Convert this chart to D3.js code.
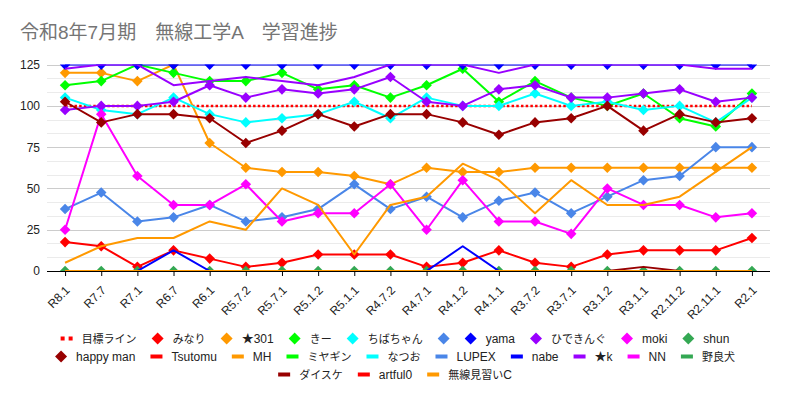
<!DOCTYPE html>
<html lang="ja">
<head>
  <meta charset="UTF-8">
  <title>令和8年7月期 無線工学A 学習進捗</title>
  <style>
    body {
      margin: 0;
      background: #fff;
    }
    svg {
      display: block;
      font-family: "Liberation Sans", Arial, "Noto Sans CJK JP", sans-serif;
    }
    .title {
      font-size: 19px;
      fill: #757575;
      font-family: "Liberation Sans", Arial, "Noto Sans CJK JP", sans-serif;
    }
    .axis text {
      font-size: 12px;
      fill: #222;
    }
    .legend text {
      font-size: 12px;
      fill: #222;
    }
  </style>
</head>
<body>
  <svg></svg>
  <script src="https://d3js.org/d3.v7.min.js"></script>
  <script>
    const categories = ['R8.1', 'R7.7', 'R7.1', 'R6.7', 'R6.1', 'R5.7.2', 'R5.7.1', 'R5.1.2', 'R5.1.1', 'R4.7.2',
      'R4.7.1', 'R4.1.2', 'R4.1.1', 'R3.7.2', 'R3.7.1', 'R3.1.2', 'R3.1.1', 'R2.11.2', 'R2.11.1', 'R2.1'];
    const yTicks = [0, 25, 50, 75, 100, 125];

    // values, R8.1 -> R2.1
    const target    = [100, 100, 100, 100, 100, 100, 100, 100, 100, 100, 100, 100, 100, 100, 100, 100, 100, 100, 100, 100];
    const minari    = [17.5, 15, 2.5, 12.5, 7.5, 2.5, 5, 10, 10, 10, 2.5, 5, 12.5, 5, 2.5, 10, 12.5, 12.5, 12.5, 20];
    const star301   = [120, 120, 115, 125, 77.5, 62.5, 60, 60, 57.5, 52.5, 62.5, 60, 60, 62.5, 62.5, 62.5, 62.5, 62.5, 62.5, 62.5];
    const kii       = [112.5, 115, 125, 120, 115, 115, 120, 110, 112.5, 105, 112.5, 122.5, 102.5, 115, 105, 100, 107.5, 92.5, 87.5, 107.5];
    const chiba     = [105, 97.5, 95, 105, 95, 90, 92.5, 95, 102.5, 92.5, 105, 100, 100, 107.5, 100, 102.5, 97.5, 100, 90, 105];
    const noName    = [37.5, 47.5, 30, 32.5, 40, 30, 32.5, 37.5, 52.5, 37.5, 45, 32.5, 42.5, 47.5, 35, 45, 55, 57.5, 75, 75];
    const yama      = [125, 125, 125, 125, 125, 125, 125, 125, 125, 125, 125, 125, 125, 125, 125, 125, 125, 125, 125, 125];
    const hideking  = [97.5, 100, 100, 102.5, 112.5, 105, 110, 107.5, 110, 117.5, 102.5, 100, 110, 112.5, 105, 105, 107.5, 110, 102.5, 105];
    const moki      = [25, 95, 57.5, 40, 40, 52.5, 30, 35, 35, 52.5, 25, 55, 30, 30, 22.5, 50, 40, 40, 32.5, 35];
    const shun      = [0, 0, 0, 0, 0, 0, 0, 0, 0, 0, 0, 0, 0, 0, 0, 0, 0, 0, 0, 0];
    const happyMan  = [102.5, 90, 95, 95, 92.5, 77.5, 85, 95, 87.5, 95, 95, 90, 82.5, 90, 92.5, 100, 85, 95, 90, 92.5];
    const tsutomu   = [0, 0, 0, 0, 0, 0, 0, 0, 0, 0, 0, 0, 0, 0, 0, 0, 0, 0, 0, 0];
    const mh        = [5, 15, 20, 20, 30, 25, 50, 40, 10, 40, 45, 65, 55, 35, 55, 40, 40, 45, 60, 75];
    const miyagin   = [0, 0, 0, 0, 0, 0, 0, 0, 0, 0, 0, 0, 0, 0, 0, 0, 0, 0, 0, 0];
    const natsuo    = [0, 0, 0, 0, 0, 0, 0, 0, 0, 0, 0, 0, 0, 0, 0, 0, 0, 0, 0, 0];
    const lupex     = [0, 0, 0, 0, 0, 0, 0, 0, 0, 0, 0, 0, 0, 0, 0, 0, 0, 0, 0, 0];
    const nabe      = [0, 0, 0, 12.5, 0, 0, 0, 0, 0, 0, 0, 15, 0, 0, 0, 0, 0, 0, 0, 0];
    const starK     = [122.5, 125, 125, 112.5, 115, 117.5, 115, 112.5, 117.5, 125, 125, 125, 120, 125, 125, 125, 125, 125, 122.5, 122.5];
    const nn        = [0, 0, 0, 0, 0, 0, 0, 0, 0, 0, 0, 0, 0, 0, 0, 0, 0, 0, 0, 0];
    const norainu   = [0, 0, 0, 0, 0, 0, 0, 0, 0, 0, 0, 0, 0, 0, 0, 0, 0, 0, 0, 0];
    const daisuke   = [0, 0, 0, 0, 0, 0, 0, 0, 0, 0, 0, 0, 0, 0, 0, 0, 2.5, 0, 0, 0];
    const artful0   = [0, 0, 0, 0, 0, 0, 0, 0, 0, 0, 0, 0, 0, 0, 0, 0, 0, 0, 0, 0];
    const minaraiC  = [0, 0, 0, 0, 0, 0, 0, 0, 0, 0, 0, 0, 0, 0, 0, 0, 0, 0, 0, 0];

    const palette = ['#ff0000', '#ff9900', '#00ff00', '#00ffff', '#4a86e8',
      '#0000ff', '#9900ff', '#ff00ff', '#34a853', '#980000'];

    // kind: 'dotted' target line, 'marker' line + diamonds, 'line' plain line
    const series = [
      {name: '目標ライン', values: target, kind: 'dotted'},
      {name: 'みなり', values: minari, kind: 'marker'},
      {name: '★301', values: star301, kind: 'marker'},
      {name: 'きー', values: kii, kind: 'marker'},
      {name: 'ちばちゃん', values: chiba, kind: 'marker'},
      {name: '', values: noName, kind: 'marker'},
      {name: 'yama', values: yama, kind: 'marker'},
      {name: 'ひできんぐ', values: hideking, kind: 'marker'},
      {name: 'moki', values: moki, kind: 'marker'},
      {name: 'shun', values: shun, kind: 'marker'},
      {name: 'happy man', values: happyMan, kind: 'marker'},
      {name: 'Tsutomu', values: tsutomu, kind: 'line'},
      {name: 'MH', values: mh, kind: 'line'},
      {name: 'ミヤギン', values: miyagin, kind: 'line'},
      {name: 'なつお', values: natsuo, kind: 'line'},
      {name: 'LUPEX', values: lupex, kind: 'line'},
      {name: 'nabe', values: nabe, kind: 'line'},
      {name: '★k', values: starK, kind: 'line'},
      {name: 'NN', values: nn, kind: 'line'},
      {name: '野良犬', values: norainu, kind: 'line'},
      {name: 'ダイスケ', values: daisuke, kind: 'line'},
      {name: 'artful0', values: artful0, kind: 'line'},
      {name: '無線見習いC', values: minaraiC, kind: 'line'}
    ];
    series.forEach((s, i) => {
      s.color = i === 0 ? '#ff0000' : palette[(i - 1) % palette.length];
    });

    const width = 791;
    const height = 402;
    const plot = {left: 47, right: 770, top: 64.6, bottom: 271};

    const svg = d3.select('svg')
      .attr('width', width)
      .attr('height', height)
      .attr('viewBox', '0 0 ' + width + ' ' + height);

    svg.append('text')
      .attr('class', 'title')
      .attr('x', 20)
      .attr('y', 39)
      .text('令和8年7月期　無線工学A　学習進捗');

    const x = d3.scalePoint()
      .domain(categories)
      .range([plot.left, plot.right])
      .padding(0.5);

    const y = d3.scaleLinear()
      .domain([0, 125])
      .range([plot.bottom, plot.top]);

    // minor grid (thirds of a major step) then major grid
    const step = yTicks[1] - yTicks[0];
    const minor = d3.range(0, 125, step / 3).filter(v => Math.abs(v % step) > 0.01 && Math.abs(v % step - step) > 0.01);

    svg.append('g')
      .selectAll('line')
      .data(minor)
      .enter().append('line')
      .attr('x1', plot.left).attr('x2', plot.right)
      .attr('y1', d => Math.round(y(d)) + 0.5).attr('y2', d => Math.round(y(d)) + 0.5)
      .attr('stroke', '#ebebeb');

    svg.append('g')
      .selectAll('line')
      .data(yTicks.filter(v => v > 0))
      .enter().append('line')
      .attr('x1', plot.left).attr('x2', plot.right)
      .attr('y1', d => Math.round(y(d)) + 0.5).attr('y2', d => Math.round(y(d)) + 0.5)
      .attr('stroke', '#cccccc');

    // y labels
    const yAxis = svg.append('g')
      .attr('class', 'axis')
      .attr('transform', 'translate(' + plot.left + ',0)')
      .call(d3.axisLeft(y).tickValues(yTicks).tickSize(0).tickPadding(7));
    yAxis.select('.domain').remove();
    yAxis.selectAll('text').attr('font-family', null).attr('font-size', null);

    // clip to the plot area like the original
    svg.append('clipPath')
      .attr('id', 'plot-clip')
      .append('rect')
      .attr('x', plot.left)
      .attr('y', plot.top)
      .attr('width', plot.right - plot.left)
      .attr('height', plot.bottom - plot.top);

    const line = d3.line()
      .x((d, i) => x(categories[i]))
      .y(d => y(d));

    const diamond = d3.symbol().type(d3.symbolSquare).size(56);

    const data = svg.append('g').attr('clip-path', 'url(#plot-clip)');

    series.forEach(s => {
      const g = data.append('g');
      g.append('path')
        .attr('d', line(s.values))
        .attr('fill', 'none')
        .attr('stroke', s.color)
        .attr('stroke-width', s.kind === 'dotted' ? 2.5 : 2)
        .attr('stroke-dasharray', s.kind === 'dotted' ? '2.5,2.2' : null)
        .attr('stroke-linejoin', 'round');
      if (s.kind === 'marker') {
        g.selectAll('path.pt')
          .data(s.values)
          .enter().append('path')
          .attr('class', 'pt')
          .attr('d', diamond)
          .attr('fill', s.color)
          .attr('transform', (d, i) => 'translate(' + x(categories[i]) + ',' + y(d) + ') rotate(45)');
      }
    });

    // x axis with rotated labels
    const xAxis = svg.append('g')
      .attr('class', 'axis')
      .attr('transform', 'translate(0,' + plot.bottom + ')')
      .call(d3.axisBottom(x).tickSize(5).tickSizeOuter(0));
    xAxis.attr('font-family', null).attr('font-size', null);
    xAxis.select('.domain').attr('stroke', '#000').attr('d', 'M' + plot.left + ',0.5H' + plot.right);
    xAxis.selectAll('.tick line').attr('stroke', '#000').attr('y1', 0.5);
    xAxis.selectAll('text')
      .attr('x', 0)
      .attr('y', 0)
      .attr('dy', 0)
      .attr('transform', 'translate(5,20) rotate(-45)')
      .style('text-anchor', 'end');

    // legend: flowing rows, centred
    const cjk = /[\u3000-\u30ff\u4e00-\u9fff]/;
    function richText(sel, str) {
      const runs = str.match(/[\u3000-\u30ff\u4e00-\u9fff]+|[^\u3000-\u30ff\u4e00-\u9fff]+/g) || [];
      runs.forEach(r => {
        sel.append('tspan')
          .style('font-size', cjk.test(r) ? '11px' : null)
          .text(r);
      });
    }

    const legend = svg.append('g').attr('class', 'legend');
    const symW = 12, symGap = 9, itemGap = 15, maxRow = 700, centerX = 395;
    const rowY = [338.5, 356.5, 374.5];

    const items = series.map(s => {
      const g = legend.append('g');
      const t = g.append('text')
        .attr('x', symW + symGap)
        .attr('dy', '0.35em');
      richText(t, s.name);
      const tw = s.name ? t.node().getComputedTextLength() : 0;
      if (s.kind === 'dotted') {
        g.append('rect').attr('x', 0).attr('y', -2).attr('width', 4).attr('height', 4).attr('fill', s.color);
        g.append('rect').attr('x', 8).attr('y', -2).attr('width', 4).attr('height', 4).attr('fill', s.color);
      } else if (s.kind === 'marker') {
        g.append('path')
          .attr('d', d3.symbol().type(d3.symbolSquare).size(72)())
          .attr('transform', 'translate(' + symW / 2 + ',0) rotate(45)')
          .attr('fill', s.color);
      } else {
        g.append('rect').attr('x', 0).attr('y', -2).attr('width', symW).attr('height', 4).attr('fill', s.color);
      }
      return {g: g, w: symW + (s.name ? symGap + tw : 0)};
    });

    const rows = [[]];
    let rowWidth = 0;
    items.forEach(it => {
      const add = (rows[rows.length - 1].length ? itemGap : 0) + it.w;
      if (rowWidth + add > maxRow && rows[rows.length - 1].length) {
        rows.push([it]);
        rowWidth = it.w;
      } else {
        rows[rows.length - 1].push(it);
        rowWidth += add;
      }
    });

    rows.forEach((row, r) => {
      const total = d3.sum(row, d => d.w) + itemGap * (row.length - 1);
      let cx = centerX - total / 2;
      row.forEach(it => {
        it.g.attr('transform', 'translate(' + cx + ',' + rowY[r] + ')');
        cx += it.w + itemGap;
      });
    });
  </script>
</body>
</html>
